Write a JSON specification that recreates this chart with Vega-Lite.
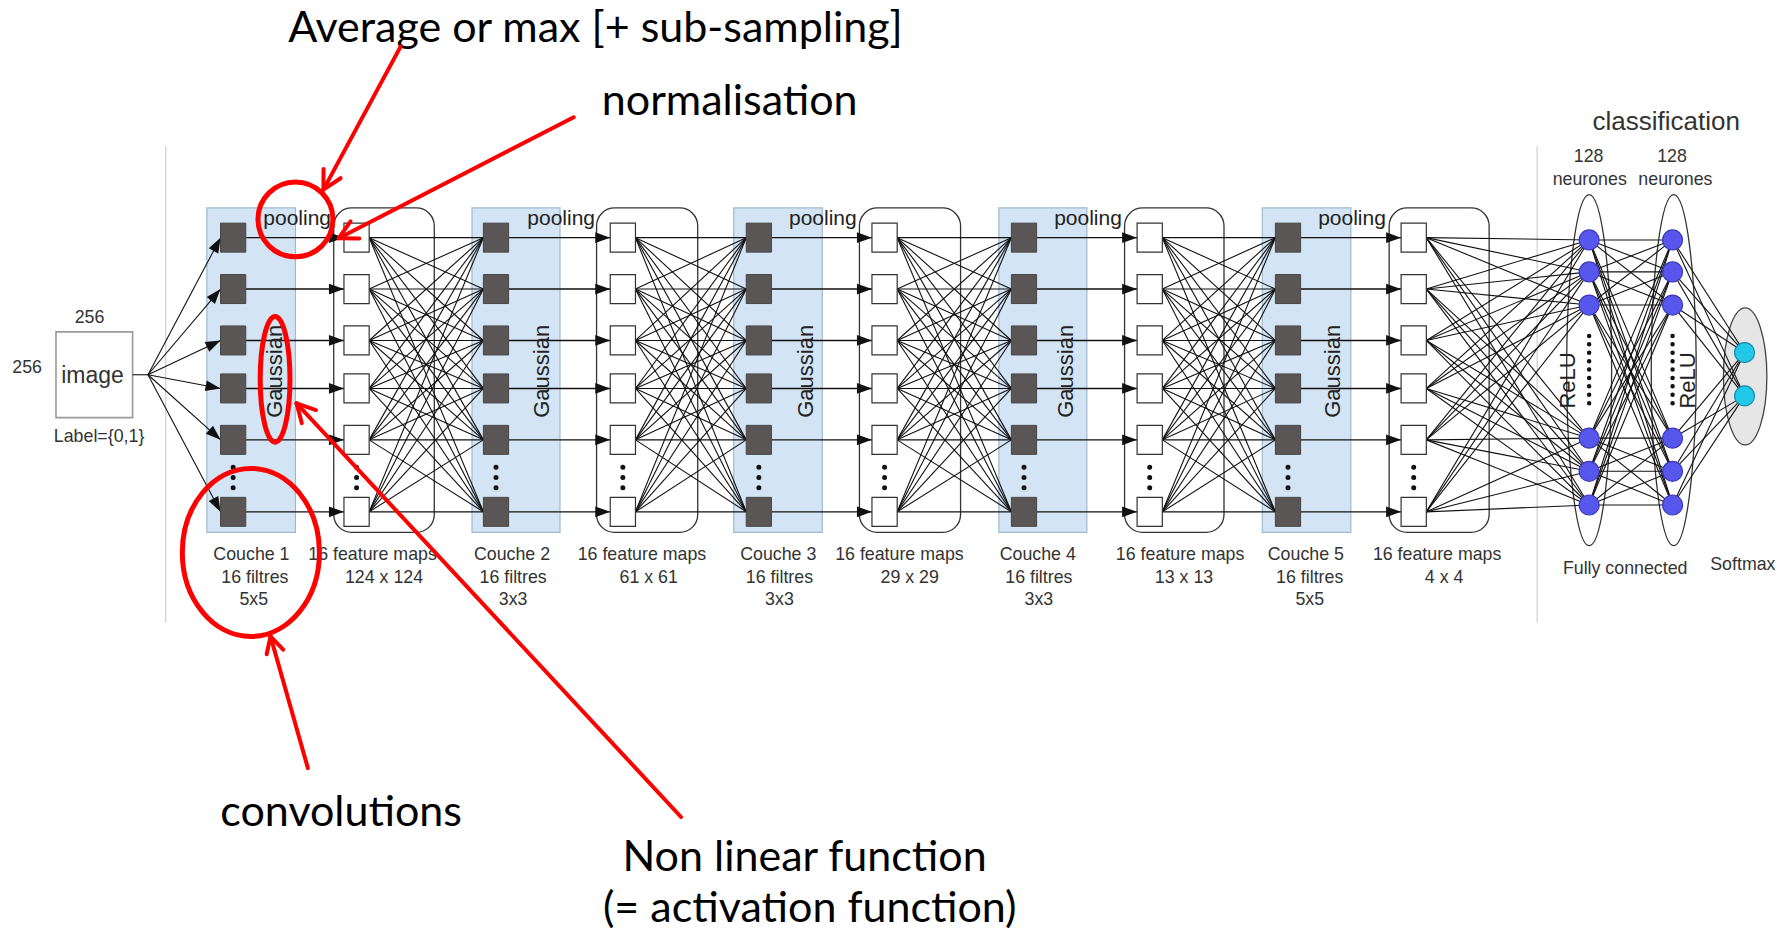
{
  "$schema": "https://vega.github.io/schema/vega-lite/v6.json",
  "width": 1792,
  "height": 938,
  "autosize": {"type": "fit", "contains": "padding"},
  "padding": 0,
  "background": "white",
  "config": {"view": {"stroke": null}},
  "datasets": {
    "grayLines": [{"x": 145, "y": 128, "y2": 545}, {"x": 1345, "y": 128, "y2": 545}],
    "coucheBoxes": [
      {"x": 181, "x2": 258.5, "y": 182, "y2": 466},
      {"x": 413, "x2": 490, "y": 182, "y2": 466},
      {"x": 642, "x2": 719.5, "y": 182, "y2": 466},
      {"x": 874, "x2": 951, "y": 182, "y2": 466},
      {"x": 1104.5, "x2": 1182, "y": 182, "y2": 466}
    ],
    "fmBoxes": [
      {"x": 292, "x2": 380, "y": 182, "y2": 466},
      {"x": 522, "x2": 610.5, "y": 182, "y2": 466},
      {"x": 752, "x2": 840.5, "y": 182, "y2": 466},
      {"x": 984, "x2": 1071, "y": 182, "y2": 466},
      {"x": 1215.5, "x2": 1303, "y": 182, "y2": 466}
    ],
    "imageBox": [{"x": 49, "x2": 116, "y": 290.5, "y2": 365.5}],
    "edges": [
      {"x": 116, "x2": 129.5, "y": [328], "y2": [328]},
      {"x": 129.5, "x2": 193, "y": [328], "y2": [208, 253, 298, 340, 385, 448]},
      {"x": 323, "x2": 423, "y": [208, 253, 298, 340, 385, 448], "y2": [208, 253, 298, 340, 385, 448]},
      {"x": 556, "x2": 653, "y": [208, 253, 298, 340, 385, 448], "y2": [208, 253, 298, 340, 385, 448]},
      {"x": 785, "x2": 885, "y": [208, 253, 298, 340, 385, 448], "y2": [208, 253, 298, 340, 385, 448]},
      {"x": 1017, "x2": 1116, "y": [208, 253, 298, 340, 385, 448], "y2": [208, 253, 298, 340, 385, 448]},
      {"x": 1248, "x2": 1390.5, "y": [208, 253, 298, 340, 385, 448], "y2": [210, 238, 267, 383.5, 412.5, 442]},
      {"x": 1390.5, "x2": 1463.5, "y": [210, 238, 267, 383.5, 412.5, 442], "y2": [210, 238, 267, 383.5, 412.5, 442]},
      {"x": 1463.5, "x2": 1526.5, "y": [210, 238, 267, 383.5, 412.5, 442], "y2": [308.6, 346.5]},
      {"x": 215, "x2": 301, "y": [208, 253, 298, 340, 385, 448], "y2": ["same"]},
      {"x": 445, "x2": 534, "y": [208, 253, 298, 340, 385, 448], "y2": ["same"]},
      {"x": 675, "x2": 763, "y": [208, 253, 298, 340, 385, 448], "y2": ["same"]},
      {"x": 907, "x2": 995, "y": [208, 253, 298, 340, 385, 448], "y2": ["same"]},
      {"x": 1138, "x2": 1226, "y": [208, 253, 298, 340, 385, 448], "y2": ["same"]}
    ],
    "heads": [
      {"x": 294.4, "angle": 0, "y": [208, 253, 298, 340, 385, 448]},
      {"x": 527.4, "angle": 0, "y": [208, 253, 298, 340, 385, 448]},
      {"x": 756.4, "angle": 0, "y": [208, 253, 298, 340, 385, 448]},
      {"x": 988.4, "angle": 0, "y": [208, 253, 298, 340, 385, 448]},
      {"x": 1219.4, "angle": 0, "y": [208, 253, 298, 340, 385, 448]},
      {"x": 189.9, "angle": 297.9, "y": [213.8]},
      {"x": 188.7, "angle": 310.3, "y": [258.0]},
      {"x": 187.0, "angle": 334.7, "y": [300.8]},
      {"x": 186.5, "angle": 10.7, "y": [338.8]},
      {"x": 188.1, "angle": 41.9, "y": [380.6]},
      {"x": 189.9, "angle": 62.1, "y": [442.2]}
    ],
    "darkSq": [
      {"x": 204, "y": [208, 253, 298, 340, 385, 448]},
      {"x": 434, "y": [208, 253, 298, 340, 385, 448]},
      {"x": 664, "y": [208, 253, 298, 340, 385, 448]},
      {"x": 896, "y": [208, 253, 298, 340, 385, 448]},
      {"x": 1127, "y": [208, 253, 298, 340, 385, 448]}
    ],
    "whiteSq": [
      {"x": 312, "y": [208, 253, 298, 340, 385, 448]},
      {"x": 545, "y": [208, 253, 298, 340, 385, 448]},
      {"x": 774, "y": [208, 253, 298, 340, 385, 448]},
      {"x": 1006, "y": [208, 253, 298, 340, 385, 448]},
      {"x": 1237, "y": [208, 253, 298, 340, 385, 448]}
    ],
    "convDots": [
      {"x": 204, "y": 409, "y2": 427}, {"x": 312, "y": 409, "y2": 427},
      {"x": 434, "y": 409, "y2": 427}, {"x": 545, "y": 409, "y2": 427},
      {"x": 664, "y": 409, "y2": 427}, {"x": 774, "y": 409, "y2": 427},
      {"x": 896, "y": 409, "y2": 427}, {"x": 1006, "y": 409, "y2": 427},
      {"x": 1127, "y": 409, "y2": 427}, {"x": 1237, "y": 409, "y2": 427}
    ],
    "fcDots": [{"x": 1390.5, "y": 294, "y2": 360}, {"x": 1463.5, "y": 294, "y2": 360}],
    "fcEll": [{"x": 1390.5, "y": 324}, {"x": 1464.5, "y": 324}],
    "softEll": [{"x": 1527, "y": 329.5}],
    "fcNodes": [
      {"x": 1390.5, "y": [210, 238, 267, 383.5, 412.5, 442]},
      {"x": 1463.5, "y": [210, 238, 267, 383.5, 412.5, 442]}
    ],
    "softNodes": [{"x": 1526.5, "y": 308.6}, {"x": 1526.5, "y": 346.5}],
    "redLines": [
      {"x": 350.5, "y": 40.8, "x2": 283, "y2": 166},
      {"x": 283, "y": 166, "x2": 298, "y2": 156},
      {"x": 283, "y": 166, "x2": 283.1, "y2": 148},
      {"x": 502, "y": 102.6, "x2": 296.4, "y2": 208.5},
      {"x": 296.4, "y": 208.5, "x2": 314.4, "y2": 208.7},
      {"x": 296.4, "y": 208.5, "x2": 306.7, "y2": 193.7},
      {"x": 269.4, "y": 672.3, "x2": 236.7, "y2": 557},
      {"x": 236.7, "y": 557, "x2": 233.3, "y2": 572.6},
      {"x": 236.7, "y": 557, "x2": 247.8, "y2": 568.5},
      {"x": 595.9, "y": 715.1, "x2": 259.5, "y2": 353},
      {"x": 259.5, "y": 353, "x2": 264.1, "y2": 370.4},
      {"x": 259.5, "y": 353, "x2": 276.5, "y2": 358.9}
    ],
    "redCircle": [{"x": 258.5, "y": 192}],
    "redGauss": [{"x": 240.7, "y": 332}],
    "redConv": [{"x": 219.5, "y": 483.5}],
    "annot": [
      {"text": "Average or max [+ sub-sampling]", "x": 521, "y": 36.8},
      {"text": "normalisation", "x": 638.5, "y": 100.6},
      {"text": "convolutions", "x": 298.5, "y": 723.3},
      {"text": "Non linear function", "x": 704, "y": 762.7},
      {"text": "(= activation function)", "x": 708.5, "y": 807.3}
    ],
    "labels": [
      {"text": "Couche 1", "x": 220, "y": 490.5}, {"text": "16 filtres", "x": 223, "y": 510}, {"text": "5x5", "x": 222, "y": 529.5},
      {"text": "Couche 2", "x": 448, "y": 490.5}, {"text": "16 filtres", "x": 449, "y": 510}, {"text": "3x3", "x": 449, "y": 529.5},
      {"text": "Couche 3", "x": 681, "y": 490.5}, {"text": "16 filtres", "x": 682, "y": 510}, {"text": "3x3", "x": 682, "y": 529.5},
      {"text": "Couche 4", "x": 908, "y": 490.5}, {"text": "16 filtres", "x": 909, "y": 510}, {"text": "3x3", "x": 909, "y": 529.5},
      {"text": "Couche 5", "x": 1142.6, "y": 490.5}, {"text": "16 filtres", "x": 1146, "y": 510}, {"text": "5x5", "x": 1146, "y": 529.5},
      {"text": "16 feature maps", "x": 326, "y": 490}, {"text": "124 x 124", "x": 336, "y": 510},
      {"text": "16 feature maps", "x": 561.7, "y": 490}, {"text": "61 x 61", "x": 567.6, "y": 510},
      {"text": "16 feature maps", "x": 787, "y": 490}, {"text": "29 x 29", "x": 796, "y": 510},
      {"text": "16 feature maps", "x": 1032.6, "y": 490}, {"text": "13 x 13", "x": 1036, "y": 510},
      {"text": "16 feature maps", "x": 1257.5, "y": 490}, {"text": "4 x 4", "x": 1263.6, "y": 510},
      {"text": "256", "x": 78.3, "y": 283}, {"text": "256", "x": 23.7, "y": 326.7}, {"text": "Label={0,1}", "x": 86.7, "y": 386.5},
      {"text": "128", "x": 1390, "y": 142}, {"text": "neurones", "x": 1391, "y": 162},
      {"text": "128", "x": 1463, "y": 142}, {"text": "neurones", "x": 1466, "y": 162},
      {"text": "Fully connected", "x": 1422, "y": 502.5}, {"text": "Softmax", "x": 1525, "y": 498.7}
    ],
    "pooling": [
      {"text": "pooling", "x": 260, "y": 197}, {"text": "pooling", "x": 491, "y": 197},
      {"text": "pooling", "x": 720, "y": 197}, {"text": "pooling", "x": 952, "y": 197},
      {"text": "pooling", "x": 1183, "y": 197}
    ],
    "rotated": [
      {"text": "Gaussian", "x": 241, "y": 325}, {"text": "Gaussian", "x": 474, "y": 325},
      {"text": "Gaussian", "x": 705.5, "y": 325}, {"text": "Gaussian", "x": 933, "y": 325},
      {"text": "Gaussian", "x": 1166, "y": 325},
      {"text": "ReLU", "x": 1372, "y": 333}, {"text": "ReLU", "x": 1477, "y": 333}
    ],
    "imageText": [{"text": "image", "x": 81, "y": 335.4}],
    "classText": [{"text": "classification", "x": 1458, "y": 114}]
  },
  "encoding": {
    "x": {"field": "x", "type": "quantitative", "scale": {"domain": [0, 1568], "nice": false, "zero": false}, "axis": null},
    "y": {"field": "y", "type": "quantitative", "scale": {"domain": [0, 821], "nice": false, "zero": false, "reverse": true}, "axis": null}
  },
  "layer": [
    {"data": {"name": "grayLines"}, "mark": {"type": "rule", "color": "#cfcfcf", "strokeWidth": 1.2}, "encoding": {"y2": {"field": "y2"}}},
    {"data": {"name": "coucheBoxes"}, "mark": {"type": "rect", "fill": "#d3e5f4", "stroke": "#9fb9cf", "strokeWidth": 1.2}, "encoding": {"x2": {"field": "x2"}, "y2": {"field": "y2"}}},
    {"data": {"name": "fmBoxes"}, "mark": {"type": "rect", "filled": false, "color": "#333333", "strokeWidth": 1.3, "cornerRadius": 18}, "encoding": {"x2": {"field": "x2"}, "y2": {"field": "y2"}}},
    {"data": {"name": "imageBox"}, "mark": {"type": "rect", "fill": "white", "stroke": "#9a9a9a", "strokeWidth": 1.6}, "encoding": {"x2": {"field": "x2"}, "y2": {"field": "y2"}}},
    {"data": {"name": "fcEll"}, "mark": {"type": "point", "shape": "M0,-1C0.0707,-1,0.128,-0.5523,0.128,0C0.128,0.5523,0.0707,1,0,1C-0.0707,1,-0.128,0.5523,-0.128,0C-0.128,-0.5523,-0.0707,-1,0,-1Z", "size": 123201, "filled": false, "stroke": "#333333", "strokeWidth": 1.3, "opacity": 1}},
    {"data": {"name": "softEll"}, "mark": {"type": "point", "shape": "M0,-1C0.1751,-1,0.317,-0.5523,0.317,0C0.317,0.5523,0.1751,1,0,1C-0.1751,1,-0.317,0.5523,-0.317,0C-0.317,-0.5523,-0.1751,-1,0,-1Z", "size": 18769, "filled": true, "fill": "#e6e6e6", "stroke": "#444444", "strokeWidth": 1.3, "opacity": 1}},
    {"data": {"name": "edges"}, "transform": [{"flatten": ["y"]}, {"flatten": ["y2"]}, {"filter": "datum.y2 !== 'same'"}], "mark": {"type": "rule", "color": "#111111", "strokeWidth": 1.1}, "encoding": {"x2": {"field": "x2"}, "y2": {"field": "y2"}}},
    {"data": {"name": "edges"}, "transform": [{"flatten": ["y"]}, {"flatten": ["y2"]}, {"filter": "datum.y2 === 'same'"}], "mark": {"type": "rule", "color": "#111111", "strokeWidth": 1.4}, "encoding": {"x2": {"field": "x2"}}},
    {"data": {"name": "heads"}, "transform": [{"flatten": ["y"]}], "mark": {"type": "point", "shape": "M-1,-0.72L1,0L-1,0.72Z", "size": 225, "filled": true, "fill": "#111111", "strokeWidth": 0, "opacity": 1}, "encoding": {"angle": {"field": "angle", "type": "quantitative", "scale": null}}},
    {"data": {"name": "darkSq"}, "transform": [{"flatten": ["y"]}], "mark": {"type": "point", "shape": "M-0.87,-1H0.87V1H-0.87Z", "size": 841, "filled": true, "fill": "#5b5656", "stroke": "#474747", "strokeWidth": 1, "opacity": 1}},
    {"data": {"name": "whiteSq"}, "transform": [{"flatten": ["y"]}], "mark": {"type": "point", "shape": "M-0.87,-1H0.87V1H-0.87Z", "size": 841, "filled": true, "fill": "white", "stroke": "#333333", "strokeWidth": 1.2, "opacity": 1}},
    {"data": {"name": "convDots"}, "mark": {"type": "rule", "color": "#111111", "strokeWidth": 5, "strokeCap": "round", "strokeDash": [0.01, 10.2]}, "encoding": {"y2": {"field": "y2"}}},
    {"data": {"name": "fcDots"}, "mark": {"type": "rule", "color": "#111111", "strokeWidth": 4.5, "strokeCap": "round", "strokeDash": [0.01, 8.4]}, "encoding": {"y2": {"field": "y2"}}},
    {"data": {"name": "fcNodes"}, "transform": [{"flatten": ["y"]}], "mark": {"type": "point", "shape": "circle", "size": 400, "filled": true, "fill": "#5757ee", "stroke": "#3a3ab8", "strokeWidth": 1.2, "opacity": 1}},
    {"data": {"name": "softNodes"}, "mark": {"type": "point", "shape": "circle", "size": 400, "filled": true, "fill": "#22c8e8", "stroke": "#1a8aa8", "strokeWidth": 1.2, "opacity": 1}},
    {"data": {"name": "labels"}, "mark": {"type": "text", "font": "Liberation Sans, sans-serif", "fontSize": 17.8, "fill": "#333333", "align": "center", "baseline": "alphabetic"}, "encoding": {"text": {"field": "text"}}},
    {"data": {"name": "pooling"}, "mark": {"type": "text", "font": "Liberation Sans, sans-serif", "fontSize": 21, "fill": "#222222", "align": "center", "baseline": "alphabetic"}, "encoding": {"text": {"field": "text"}}},
    {"data": {"name": "rotated"}, "mark": {"type": "text", "font": "Liberation Sans, sans-serif", "fontSize": 22, "fill": "#222222", "align": "center", "baseline": "middle", "angle": 270}, "encoding": {"text": {"field": "text"}}},
    {"data": {"name": "imageText"}, "mark": {"type": "text", "font": "Liberation Sans, sans-serif", "fontSize": 23, "fill": "#333333", "align": "center", "baseline": "alphabetic"}, "encoding": {"text": {"field": "text"}}},
    {"data": {"name": "classText"}, "mark": {"type": "text", "font": "Liberation Sans, sans-serif", "fontSize": 26, "fill": "#333333", "align": "center", "baseline": "alphabetic"}, "encoding": {"text": {"field": "text"}}},
    {"data": {"name": "annot"}, "mark": {"type": "text", "font": "Lato, sans-serif", "fontSize": 43, "fill": "#000000", "align": "center", "baseline": "alphabetic"}, "encoding": {"text": {"field": "text"}}},
    {"data": {"name": "redCircle"}, "mark": {"type": "point", "shape": "circle", "size": 5620, "filled": false, "stroke": "#ff0000", "strokeWidth": 5, "opacity": 1}},
    {"data": {"name": "redGauss"}, "mark": {"type": "point", "shape": "M0,-1C0.1309,-1,0.237,-0.5523,0.237,0C0.237,0.5523,0.1309,1,0,1C-0.1309,1,-0.237,0.5523,-0.237,0C-0.237,-0.5523,-0.1309,-1,0,-1Z", "size": 15800, "filled": false, "stroke": "#ff0000", "strokeWidth": 5, "opacity": 1}},
    {"data": {"name": "redConv"}, "mark": {"type": "point", "shape": "M0,-1C0.4507,-1,0.816,-0.5523,0.816,0C0.816,0.5523,0.4507,1,0,1C-0.4507,1,-0.816,0.5523,-0.816,0C-0.816,-0.5523,-0.4507,-1,0,-1Z", "size": 28224, "filled": false, "stroke": "#ff0000", "strokeWidth": 5, "opacity": 1}},
    {"data": {"name": "redLines"}, "mark": {"type": "rule", "color": "#ff0000", "strokeWidth": 4, "strokeCap": "round"}, "encoding": {"x2": {"field": "x2"}, "y2": {"field": "y2"}}}
  ]
}
